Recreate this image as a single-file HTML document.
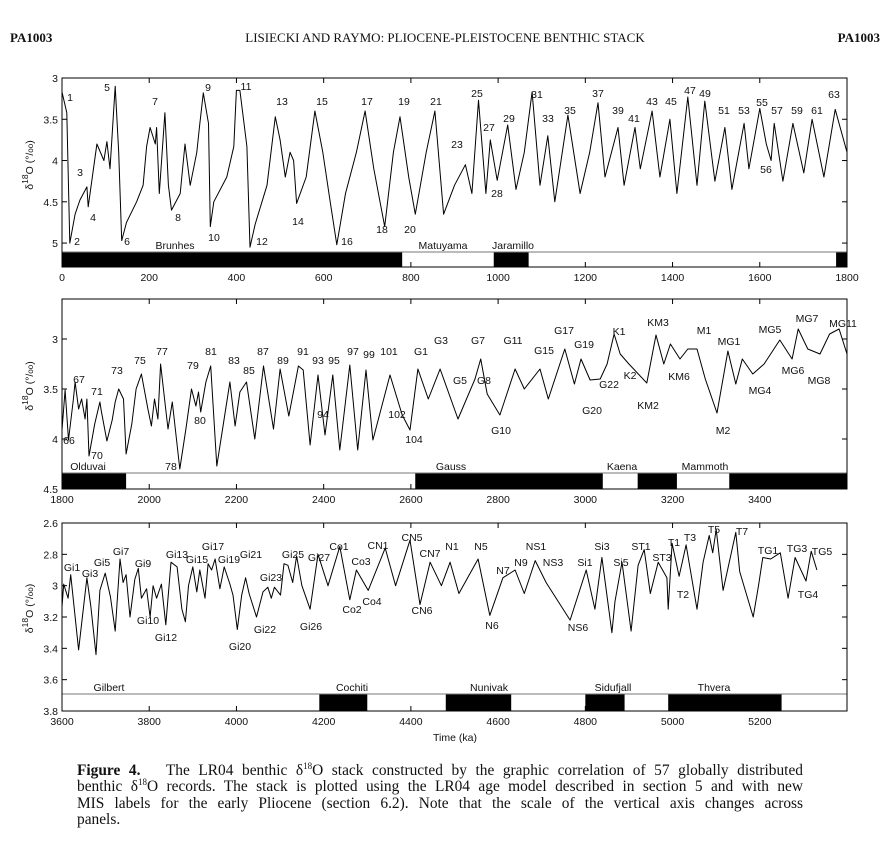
<!DOCTYPE html>
<html><head><meta charset="utf-8">
<style>
body{margin:0;background:#fff;width:890px;height:842px;overflow:hidden;position:relative;font-family:"Liberation Serif",serif}
.hdr{position:absolute;top:30px;font-size:13px;color:#111}
#cap{position:absolute;left:77px;top:763px;width:726px;font-size:15.4px;line-height:16.3px;color:#111}
#cap .j{text-align:justify;text-align-last:justify;height:16.3px}
#cap sup{font-size:9px;line-height:0;vertical-align:6px}
svg text{font-family:"Liberation Sans",sans-serif;font-size:10.5px;fill:#111}
</style></head><body>
<div class="hdr" style="left:10px;font-weight:bold">PA1003</div>
<div class="hdr" style="left:0;width:890px;text-align:center">LISIECKI AND RAYMO: PLIOCENE-PLEISTOCENE BENTHIC STACK</div>
<div class="hdr" style="right:10px;font-weight:bold">PA1003</div>
<svg id="chart" width="890" height="760" style="position:absolute;left:0;top:0"></svg>
<div id="cap">
<div class="j"><b>Figure 4.</b>&nbsp;&nbsp; The LR04 benthic δ<sup>18</sup>O stack constructed by the graphic correlation of 57 globally distributed</div>
<div class="j">benthic δ<sup>18</sup>O records. The stack is plotted using the LR04 age model described in section 5 and with new</div>
<div class="j">MIS labels for the early Pliocene (section 6.2). Note that the scale of the vertical axis changes across</div>
<div>panels.</div>
</div>
<script>
// ---- data ----
const ages1=[0,11,18,30,41,57,60,80,96,103,110,122,130,137,148,171,186,194,202,214,217,223,236,244,251,271,282,294,309,315,324,336,340,348,378,394,400,408,424,431,443,470,489,500,512,523,531,538,560,580,598,615,630,650,675,695,715,740,760,775,795,810,835,855,875,900,925,940,955,972,982,998,1022,1041,1060,1078,1096,1114,1130,1160,1188,1210,1229,1245,1275,1289,1314,1326,1353,1371,1394,1410,1435,1456,1474,1497,1520,1536,1564,1575,1600,1615,1626,1633,1653,1676,1701,1720,1747,1773,1800];
const d18O1=[3.17,3.42,5.0,4.65,4.48,4.32,4.56,3.8,4.0,3.77,4.1,3.1,3.9,4.97,4.75,4.5,4.3,3.83,3.6,3.8,3.6,4.4,3.42,4.3,4.6,4.4,3.8,4.3,3.9,3.6,3.18,3.55,4.8,4.5,4.2,3.83,3.15,3.15,3.83,5.05,4.77,4.3,3.47,3.75,4.2,3.9,4.0,4.52,4.2,3.4,3.9,4.5,5.02,4.4,3.9,3.4,4.1,4.8,3.9,3.47,4.2,4.65,3.9,3.4,4.65,4.3,4.05,4.4,3.27,4.4,3.75,4.24,3.57,4.35,3.9,3.17,4.3,3.7,4.5,3.45,4.4,3.9,3.3,4.2,3.6,4.3,3.6,4.1,3.4,4.2,3.5,4.4,3.23,4.3,3.28,4.25,3.6,4.35,3.55,4.1,3.37,3.8,4.0,3.55,4.25,3.55,4.15,3.5,4.2,3.38,3.9];
const ages2=[1800,1807,1815,1826,1830,1838,1845,1853,1857,1862,1875,1887,1890,1903,1915,1922,1930,1941,1947,1960,1970,1982,1997,2005,2012,2020,2026,2036,2043,2053,2070,2084,2097,2107,2113,2118,2130,2141,2155,2185,2197,2208,2223,2242,2262,2285,2300,2320,2342,2353,2369,2387,2403,2421,2437,2460,2478,2497,2513,2552,2580,2598,2616,2640,2667,2708,2747,2760,2775,2804,2839,2860,2896,2915,2953,2975,2990,3011,3034,3050,3066,3080,3100,3141,3162,3180,3195,3217,3235,3256,3275,3302,3327,3345,3360,3384,3410,3446,3474,3488,3510,3538,3560,3582,3600];
const d18O2=[3.91,3.51,4.01,3.61,3.43,3.7,3.6,3.8,3.6,4.17,3.85,3.63,3.72,4.02,3.81,3.63,3.5,3.6,4.15,3.85,3.5,3.35,3.7,3.87,3.6,3.8,3.25,3.63,3.9,3.63,4.3,3.9,3.5,3.67,3.53,3.73,3.43,3.27,4.27,3.43,3.87,3.53,3.43,4.0,3.27,3.9,3.3,3.77,3.27,3.31,4.06,3.36,3.96,3.36,4.11,3.26,4.11,3.31,4.01,3.36,3.76,3.91,3.3,3.6,3.3,3.8,3.4,3.2,3.55,3.76,3.3,3.5,3.3,3.6,3.1,3.45,3.2,3.41,3.4,3.25,2.95,3.15,3.25,3.44,2.96,3.25,3.05,3.2,3.1,3.1,3.4,3.74,3.12,3.45,3.2,3.35,3.25,3.01,3.2,2.9,3.1,3.15,2.95,2.9,3.15];
const ages3=[3600,3604,3614,3620,3638,3657,3666,3678,3687,3699,3711,3722,3733,3740,3747,3756,3767,3775,3782,3794,3802,3809,3817,3828,3838,3850,3864,3875,3883,3890,3900,3909,3916,3928,3935,3943,3951,3962,3972,3985,3992,4002,4012,4021,4029,4046,4061,4072,4080,4087,4101,4109,4118,4129,4138,4150,4169,4187,4210,4237,4260,4275,4302,4341,4365,4398,4421,4444,4470,4490,4510,4554,4581,4611,4639,4660,4685,4710,4765,4802,4822,4838,4861,4868,4884,4905,4921,4935,4949,4967,4987,4990,4999,5015,5031,5056,5070,5084,5092,5100,5116,5145,5154,5185,5197,5207,5225,5247,5265,5281,5306,5318,5331];
const d18O3=[3.135,2.99,3.08,2.93,3.41,2.95,3.13,3.44,3.03,2.92,3.07,3.29,2.83,2.98,2.93,3.2,2.96,2.89,3.08,3.02,3.2,3.0,3.08,2.99,3.25,2.85,2.88,3.15,3.23,3.0,2.88,3.04,2.9,3.08,2.86,2.9,2.83,3.02,2.88,2.99,3.06,3.28,3.06,2.95,3.05,3.2,3.04,3.01,3.08,3.01,3.06,2.86,2.87,2.98,2.81,3.0,3.15,2.8,3.0,2.75,3.09,2.9,3.03,2.76,3.0,2.71,3.12,2.85,3.0,2.85,3.05,2.83,3.19,2.95,2.9,3.05,2.84,2.98,3.22,2.9,3.15,2.82,3.3,3.1,2.85,3.29,2.87,2.77,3.05,2.85,2.95,3.15,2.73,2.94,2.74,3.15,2.85,2.68,2.79,2.64,3.03,2.66,2.91,3.2,3.0,2.82,2.83,2.79,3.08,2.82,2.97,2.78,2.9];
// ---- drawing ----
const NS='http://www.w3.org/2000/svg';
const svg=document.getElementById('chart');
function mk(tag,attrs,parent){const e=document.createElementNS(NS,tag);for(const k in attrs)e.setAttribute(k,attrs[k]);(parent||svg).appendChild(e);return e;}
const L=62,R=847;
const panels=[
 {x0:0,x1:1800,top:78,bot:267,vTop:3,vBot:5.29,yTicks:[3,3.5,4,4.5,5],yLab:["3","3.5","4","4.5","5"],xTicks:[0,200,400,600,800,1000,1200,1400,1600,1800],barTop:252,ages:ages1,vals:d18O1,
  black:[[0,780],[990,1070],[1775,1800]],
  chrons:[["Brunhes",175],["Matuyama",443],["Jaramillo",513]],
  labels:[["1",70,101],["2",77,245],["3",80,176],["4",93,221],["5",107,91],["6",127,245],["7",155,105],["8",178,221],["9",208,91],["10",214,241],["11",246,90],["12",262,245],["13",282,105],["14",298,225],["15",322,105],["16",347,245],["17",367,105],["18",382,233],["19",404,105],["20",410,233],["21",436,105],["23",457,148],["25",477,97],["27",489,131],["29",509,122],["28",497,197],["31",537,98],["33",548,122],["35",570,114],["37",598,97],["39",618,114],["41",634,122],["43",652,105],["45",671,105],["47",690,94],["49",705,97],["51",724,114],["53",744,114],["55",762,106],["57",777,114],["59",797,114],["61",817,114],["63",834,98],["56",766,173]]},
 {x0:1800,x1:3600,top:299,bot:489,vTop:2.6,vBot:4.5,yTicks:[3,3.5,4,4.5],yLab:["3","3.5","4","4.5"],xTicks:[1800,2000,2200,2400,2600,2800,3000,3200,3400],barTop:473,ages:ages2,vals:d18O2,
  black:[[1800,1947],[2610,3040],[3120,3210],[3330,3600]],
  chrons:[["Olduvai",88],["Gauss",451],["Kaena",622],["Mammoth",705]],
  labels:[["66",69,444],["67",79,383],["70",97,459],["71",97,395],["73",117,374],["75",140,364],["77",162,355],["78",171,470],["79",193,369],["80",200,424],["81",211,355],["83",234,364],["85",249,374],["87",263,355],["89",283,364],["91",303,355],["93",318,364],["95",334,364],["94",323,418],["97",353,355],["99",369,358],["101",389,355],["102",397,418],["104",414,443],["G1",421,355],["G3",441,344],["G5",460,384],["G7",478,344],["G8",484,384],["G10",501,434],["G11",513,344],["G15",544,354],["G17",564,334],["G19",584,348],["G20",592,414],["G22",609,388],["K1",619,335],["K2",630,379],["KM2",648,409],["KM3",658,326],["KM6",679,380],["M1",704,334],["M2",723,434],["MG1",729,345],["MG4",760,394],["MG5",770,333],["MG6",793,374],["MG7",807,322],["MG8",819,384],["MG11",843,327]]},
 {x0:3600,x1:5400,top:523,bot:711,vTop:2.6,vBot:3.8,yTicks:[2.6,2.8,3,3.2,3.4,3.6,3.8],yLab:["2.6","2.8","3","3.2","3.4","3.6","3.8"],xTicks:[3600,3800,4000,4200,4400,4600,4800,5000,5200],barTop:694,ages:ages3,vals:d18O3,
  black:[[4190,4300],[4480,4630],[4800,4890],[4990,5250]],
  chrons:[["Gilbert",109],["Cochiti",352],["Nunivak",489],["Sidufjall",613],["Thvera",714]],
  labels:[["Gi1",72,571],["Gi3",90,577],["Gi5",102,566],["Gi7",121,555],["Gi9",143,567],["Gi10",148,624],["Gi12",166,641],["Gi13",177,558],["Gi15",197,563],["Gi17",213,550],["Gi19",229,563],["Gi21",251,558],["Gi23",271,581],["Gi20",240,650],["Gi22",265,633],["Gi25",293,558],["Gi26",311,630],["Gi27",319,561],["Co1",339,550],["Co2",352,613],["Co3",361,565],["Co4",372,605],["CN1",378,549],["CN5",412,541],["CN6",422,614],["CN7",430,557],["N1",452,550],["N5",481,550],["N6",492,629],["N7",503,574],["N9",521,566],["NS1",536,550],["NS3",553,566],["NS6",578,631],["Si1",585,566],["Si3",602,550],["Si5",621,566],["ST1",641,550],["ST3",662,561],["T1",674,546],["T3",690,541],["T2",683,598],["T5",714,533],["T7",742,535],["TG1",768,554],["TG3",797,552],["TG4",808,598],["TG5",822,555]]}
];
panels.forEach((p,pi)=>{
 const g=mk('g',{});
 
 
 const xs=a=>L+(a-p.x0)/(p.x1-p.x0)*(R-L);
 const ys=v=>p.top+(v-p.vTop)/(p.vBot-p.vTop)*(p.bot-p.top);
 p.black.forEach(b=>{const r=mk('rect',{x:xs(b[0]),y:p.barTop,width:xs(b[1])-xs(b[0]),height:p.bot-p.barTop,fill:'#000'},g);
  
  });
 const bl=mk('line',{x1:L,x2:R,y1:p.barTop,y2:p.barTop,stroke:'#777','stroke-width':1},g);
 
 
 let d='';p.ages.forEach((a,i)=>{d+=(i?'L':'M')+xs(a).toFixed(1)+','+ys(p.vals[i]).toFixed(1);});
 const ln=mk('path',{d:d,fill:'none',stroke:'#000','stroke-width':1,'stroke-linejoin':'round'},g);
 
 
 const fr=mk('rect',{x:L,y:p.top,width:R-L,height:p.bot-p.top,fill:'none',stroke:'#000','stroke-width':1},g);
 
 
 p.yTicks.forEach((v,i)=>{const y=ys(v);
  mk('line',{x1:L,x2:L+5,y1:y,y2:y,stroke:'#000'},g);mk('line',{x1:R-5,x2:R,y1:y,y2:y,stroke:'#000'},g);
  const t=mk('text',{x:L-4,y:y+4,'text-anchor':'end','font-size':'11.5'},g);t.textContent=p.yLab[i];
  
  });
 p.xTicks.forEach(a=>{const x=xs(a);
  mk('line',{x1:x,x2:x,y1:p.bot,y2:p.bot-5,stroke:'#000'},g);mk('line',{x1:x,x2:x,y1:p.top,y2:p.top+5,stroke:'#000'},g);
  const t=mk('text',{x:x,y:p.bot+14,'text-anchor':'middle','font-size':'11.5'},g);t.textContent=a;
  
  });
 p.chrons.forEach(c=>{const t=mk('text',{x:c[1],y:p.barTop-3,'text-anchor':'middle'},g);t.textContent=c[0];
  
  });
 p.labels.forEach(c=>{const t=mk('text',{x:c[1],y:c[2],'text-anchor':'middle'},g);t.textContent=c[0];
  
  });
 const yc=(p.top+p.barTop)/2;
 const yt=mk('text',{x:0,y:0,transform:'translate(33,'+yc+') rotate(-90)','text-anchor':'middle','font-size':'12.5'},g);
 yt.innerHTML='δ<tspan dy="-5" font-size="8.5">18</tspan><tspan dy="5">O (°/</tspan><tspan font-size="8">oo</tspan>)';
 
 
});
const xt=mk('text',{x:455,y:741,'text-anchor':'middle','font-size':'12'});
xt.textContent='Time (ka)';


</script>
</body></html>
